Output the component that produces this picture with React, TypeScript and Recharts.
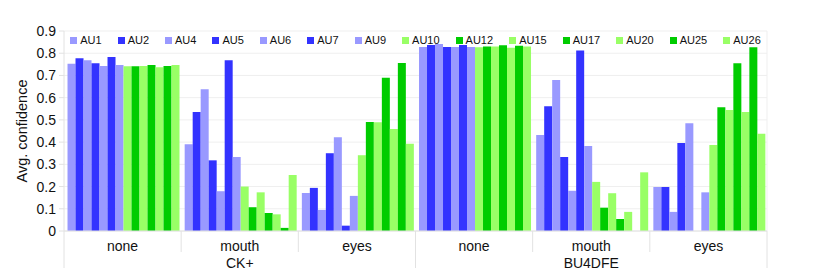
import { BarChart, Bar, XAxis, YAxis, CartesianGrid, Legend } from "recharts";

// x categories: condition (top row) and dataset (bottom row)
const conditions = ["none", "mouth", "eyes", "none", "mouth", "eyes"];
const datasets = ["CK+", "CK+", "CK+", "BU4DFE", "BU4DFE", "BU4DFE"];

// series names, in legend order
const seriesNames = ["AU1", "AU2", "AU4", "AU5", "AU6", "AU7", "AU9", "AU10", "AU12", "AU15", "AU17", "AU20", "AU25", "AU26"];

// avg. confidence per series, one value per category
const au1 = [0.753, 0.39, 0.171, 0.828, 0.432, 0.198];
const au2 = [0.777, 0.536, 0.194, 0.837, 0.561, 0.198];
const au4 = [0.768, 0.638, 0.095, 0.842, 0.68, 0.086];
const au5 = [0.755, 0.318, 0.35, 0.828, 0.333, 0.396];
const au6 = [0.743, 0.179, 0.422, 0.828, 0.181, 0.485];
const au7 = [0.783, 0.768, 0.024, 0.837, 0.812, 0];
const au9 = [0.747, 0.333, 0.158, 0.828, 0.383, 0.174];
const au10 = [0.741, 0.2, 0.341, 0.827, 0.221, 0.387];
const au12 = [0.741, 0.107, 0.491, 0.83, 0.105, 0.557];
const au15 = [0.743, 0.174, 0.489, 0.83, 0.17, 0.545];
const au17 = [0.747, 0.081, 0.69, 0.836, 0.054, 0.755];
const au20 = [0.737, 0.075, 0.459, 0.825, 0.086, 0.536];
const au25 = [0.743, 0.014, 0.756, 0.834, 0, 0.827];
const au26 = [0.747, 0.252, 0.393, 0.83, 0.264, 0.438];

const yTicks = [0, 0.1, 0.2, 0.3, 0.4, 0.5, 0.6, 0.7, 0.8, 0.9];

const seriesValues = [au1, au2, au4, au5, au6, au7, au9, au10, au12, au15, au17, au20, au25, au26];
const seriesColors = [
  "#9999ff", "#3333ff", "#9999ff", "#3333ff", "#9999ff", "#3333ff", "#9999ff",
  "#99ff66", "#00cc00", "#99ff66", "#00cc00", "#99ff66", "#00cc00", "#99ff66",
];

const data = conditions.map((cond, i) => {
  const row: Record<string, string | number> = { cond, dataset: datasets[i] };
  seriesNames.forEach((name, s) => {
    row[name] = seriesValues[s][i];
  });
  return row;
});

const FONT = "'Liberation Sans', Arial, Helvetica, sans-serif";
const LINE = "#e2e2e2";
const GRID = "#efefef";

const WIDTH = 830;
const HEIGHT = 277;
const MARGIN = { top: 31, right: 63, bottom: 0, left: 0 };
const Y_WIDTH = 64;
const band = (WIDTH - MARGIN.left - MARGIN.right - Y_WIDTH) / conditions.length;

function ConditionTick(props: any) {
  const { x, y, payload, index } = props;
  const left = x - band / 2;
  const long = index === 0 || index === 3;
  return (
    <g>
      <line x1={left} x2={left} y1={y} y2={y + (long ? 37 : 21)} stroke={LINE} />
      {index === conditions.length - 1 && (
        <line x1={x + band / 2} x2={x + band / 2} y1={y} y2={y + 37} stroke={LINE} />
      )}
      <text x={x} y={y + 20} textAnchor="middle" fontSize={14} fontFamily={FONT} fill="#111">
        {payload.value}
      </text>
    </g>
  );
}

function DatasetTick(props: any) {
  const { x, y, payload, index } = props;
  if (index !== 1 && index !== 4) return <g />;
  return (
    <text x={x} y={y + 16.5} textAnchor="middle" fontSize={14} fontFamily={FONT} fill="#111">
      {payload.value}
    </text>
  );
}

function YLabel() {
  return (
    <text
      x={27}
      y={131}
      transform="rotate(-90 27 131)"
      textAnchor="middle"
      fontSize={14.5}
      fontFamily={FONT}
      fill="#111"
    >
      Avg. confidence
    </text>
  );
}

function LegendContent() {
  return (
    <div
      style={{
        display: "flex",
        justifyContent: "center",
        gap: 16,
        fontFamily: FONT,
        fontSize: 11,
        lineHeight: "14px",
        color: "#111",
      }}
    >
      {seriesNames.map((name, i) => (
        <span key={name} style={{ display: "flex", alignItems: "center" }}>
          <span style={{ width: 7, height: 7, background: seriesColors[i], marginRight: 3 }} />
          {name}
        </span>
      ))}
    </div>
  );
}

export default function App() {
  return (
    <div style={{ position: "absolute", left: 0, top: 0, background: "#fff" }}>
      <BarChart
        width={WIDTH}
        height={HEIGHT}
        data={data}
        margin={MARGIN}
        barGap={0}
        barCategoryGap="3%"
      >
        <CartesianGrid
          stroke={GRID}
          verticalCoordinatesGenerator={({ offset }: any) => [offset.left + offset.width]}
        />
        <XAxis
          dataKey="cond"
          height={20}
          tickSize={0}
          tickMargin={0}
          axisLine={{ stroke: LINE }}
          tickLine={false}
          interval={0}
          tick={<ConditionTick />}
        />
        <XAxis
          xAxisId="ds"
          dataKey="dataset"
          height={26}
          tickSize={0}
          tickMargin={0}
          axisLine={false}
          tickLine={false}
          interval={0}
          tick={<DatasetTick />}
        />
        <YAxis
          width={Y_WIDTH}
          domain={[0, 0.9]}
          ticks={yTicks}
          interval={0}
          tickSize={5}
          tickMargin={3}
          axisLine={{ stroke: LINE }}
          tickLine={{ stroke: LINE }}
          tick={{ fontSize: 14, fontFamily: FONT, fill: "#111" }}
          tickFormatter={(v: number) => (v === 0 ? "0" : v.toFixed(1))}
          label={<YLabel />}
        />
        <Legend
          layout="horizontal"
          verticalAlign="middle"
          align="center"
          content={<LegendContent />}
          wrapperStyle={{ top: 33, left: 64, width: 703 }}
        />
        {seriesNames.map((name, i) => (
          <Bar key={name} dataKey={name} fill={seriesColors[i]} isAnimationActive={false} />
        ))}
      </BarChart>
    </div>
  );
}
